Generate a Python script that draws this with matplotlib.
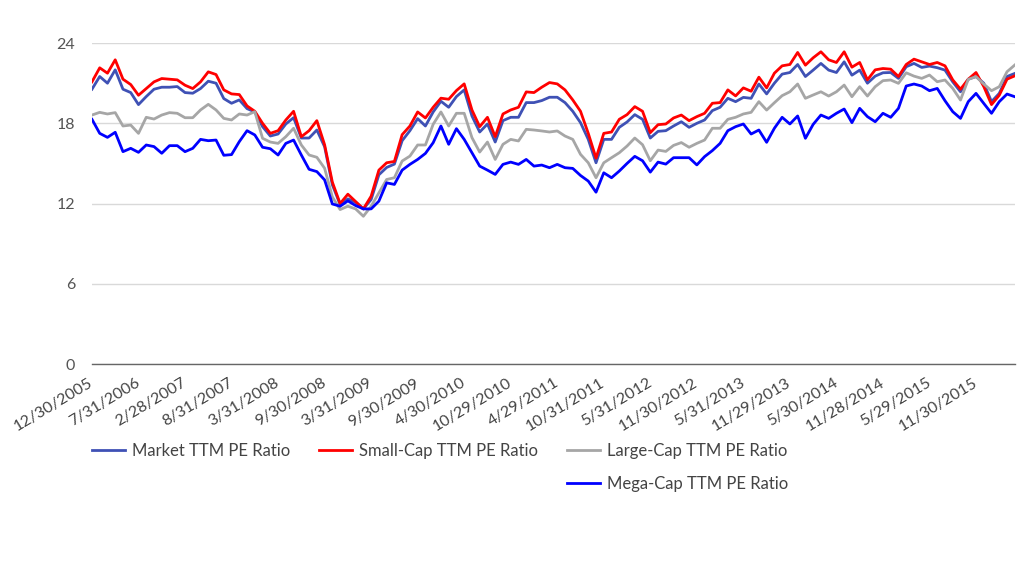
import matplotlib.pyplot as plt
from matplotlib.lines import Line2D

plt.rcParams['font.family'] = ['Lato', 'DejaVu Sans']

tick_labels = ['12/30/2005', '7/31/2006', '2/28/2007', '8/31/2007', '3/31/2008',
               '9/30/2008', '3/31/2009', '9/30/2009', '4/30/2010', '10/29/2010',
               '4/29/2011', '10/31/2011', '5/31/2012', '11/30/2012', '5/31/2013',
               '11/29/2013', '5/30/2014', '11/28/2014', '5/29/2015', '11/30/2015']

market = [20.55, 21.5, 21.0, 22.0, 20.55, 20.3, 19.4, 20.0, 20.55, 20.7,
          20.7, 20.75, 20.3, 20.25, 20.6, 21.15, 21.0, 19.85, 19.5, 19.75,
          19.1, 18.85, 17.75, 17.05, 17.2, 17.95, 18.42, 16.9, 16.9, 17.5,
          16.25, 13.4, 11.93, 12.35, 12.1, 11.6, 12.3, 14.15, 14.7, 14.95,
          16.7, 17.45, 18.35, 17.8, 18.85, 19.65, 19.2, 20.0, 20.5, 18.55,
          17.35, 17.95, 16.6, 18.2, 18.45, 18.45, 19.55, 19.55, 19.7, 19.95,
          19.95, 19.55, 18.9, 18.05, 16.8, 15.05, 16.8, 16.8, 17.7, 18.1,
          18.65, 18.3, 16.9, 17.4, 17.45, 17.8, 18.12, 17.7, 18.0, 18.25,
          18.95, 19.2, 19.87, 19.62, 19.94, 19.87, 20.94, 20.2, 21.0, 21.68,
          21.8, 22.4, 21.5, 21.98, 22.48, 21.98, 21.8, 22.6, 21.6, 21.98,
          21.0, 21.53, 21.78, 21.8, 21.36, 22.23, 22.48, 22.18, 22.28, 22.16,
          21.98, 21.1, 20.36, 21.3, 21.5, 21.0, 19.62, 20.24, 21.5, 21.73]

small_cap = [21.1, 22.15, 21.75, 22.75, 21.3, 20.9, 20.1, 20.6, 21.1, 21.35,
             21.3, 21.25, 20.85, 20.6, 21.1, 21.85, 21.65, 20.5, 20.2, 20.15,
             19.3, 18.9, 18.0, 17.25, 17.45, 18.25, 18.9, 17.0, 17.45, 18.2,
             16.4, 13.6, 12.0, 12.7, 12.15, 11.6, 12.55, 14.5, 15.05, 15.15,
             17.15, 17.8, 18.85, 18.4, 19.2, 19.88, 19.8, 20.45, 20.95, 19.0,
             17.75, 18.45, 17.0, 18.7, 19.0, 19.2, 20.35, 20.3, 20.7, 21.05,
             20.95, 20.5, 19.75, 18.9, 17.25, 15.4, 17.25, 17.35, 18.3, 18.65,
             19.25, 18.9, 17.3, 17.9, 17.95, 18.4, 18.62, 18.2, 18.5, 18.75,
             19.5, 19.55, 20.5, 20.05, 20.65, 20.4, 21.45, 20.65, 21.75, 22.3,
             22.4, 23.3, 22.35, 22.9, 23.35, 22.75, 22.55, 23.35, 22.2, 22.55,
             21.25, 22.0, 22.1, 22.05, 21.5, 22.4, 22.8, 22.6, 22.4, 22.55,
             22.3, 21.25, 20.55, 21.3, 21.8, 20.75, 19.4, 20.1, 21.3, 21.55]

large_cap = [18.62, 18.82, 18.7, 18.8, 17.8, 17.87, 17.25, 18.45, 18.32, 18.62,
             18.8, 18.75, 18.42, 18.42, 19.0, 19.42, 19.0, 18.37, 18.25, 18.7,
             18.62, 18.87, 16.88, 16.6, 16.5, 17.0, 17.63, 16.38, 15.63, 15.46,
             14.64, 12.5, 11.55, 11.8, 11.6, 11.05, 11.8, 12.8, 13.8, 13.93,
             15.18, 15.55, 16.38, 16.38, 17.93, 18.85, 17.8, 18.75, 18.75, 16.93,
             15.85, 16.6, 15.3, 16.43, 16.8, 16.68, 17.55, 17.5, 17.43, 17.35,
             17.43, 17.05, 16.8, 15.68, 15.05, 13.93, 15.05, 15.43, 15.8, 16.3,
             16.9, 16.4, 15.2, 16.0, 15.9, 16.35, 16.56, 16.21, 16.5, 16.75,
             17.63, 17.63, 18.3, 18.45, 18.7, 18.82, 19.62, 18.99, 19.54, 20.07,
             20.36, 20.94, 19.87, 20.12, 20.36, 20.04, 20.36, 20.86, 19.99, 20.74,
             20.04, 20.74, 21.19, 21.24, 20.99, 21.78, 21.53, 21.36, 21.61, 21.11,
             21.24, 20.61, 19.74, 21.29, 21.49, 20.94, 20.44, 20.74, 21.86, 22.36]

mega_cap = [18.3, 17.25, 16.95, 17.33, 15.88, 16.13, 15.83, 16.38, 16.26, 15.76,
            16.33, 16.33, 15.88, 16.13, 16.8, 16.7, 16.75, 15.61, 15.66, 16.63,
            17.45, 17.13, 16.21, 16.1, 15.63, 16.5, 16.75, 15.63, 14.56, 14.39,
            13.77, 11.97, 11.8, 12.2, 11.85, 11.6, 11.6, 12.18, 13.55, 13.43,
            14.5, 14.93, 15.3, 15.75, 16.55, 17.8, 16.43, 17.6, 16.8, 15.8,
            14.8, 14.5, 14.18, 14.93, 15.1, 14.93, 15.3, 14.8, 14.88, 14.68,
            14.93, 14.68, 14.63, 14.1, 13.68, 12.85, 14.3, 13.93, 14.43, 15.0,
            15.53, 15.2, 14.35, 15.1, 14.95, 15.43, 15.43, 15.43, 14.89, 15.51,
            15.96, 16.5, 17.45, 17.75, 17.95, 17.2, 17.5, 16.58, 17.63, 18.45,
            17.95, 18.55, 16.88, 17.92, 18.62, 18.37, 18.75, 19.07, 18.05, 19.12,
            18.5, 18.12, 18.75, 18.45, 19.12, 20.79, 20.94, 20.79, 20.44, 20.61,
            19.69, 18.87, 18.37, 19.62, 20.24, 19.49, 18.75, 19.62, 20.19, 19.99]

series = [
    ('Market TTM PE Ratio', market, '#3F51B5'),
    ('Small-Cap TTM PE Ratio', small_cap, '#FF0000'),
    ('Large-Cap TTM PE Ratio', large_cap, '#A6A6A6'),
    ('Mega-Cap TTM PE Ratio', mega_cap, '#0000FF'),
]

fig = plt.figure(figsize=(10.24, 5.67), dpi=100)
ax = fig.add_axes([0.0898, 0.358, 0.9012, 0.566])

x = list(range(len(market)))
handles = {}
for name, vals, color in series:
    line, = ax.plot(x, vals, color=color, linewidth=2.0, label=name,
                    solid_joinstyle='round')
    handles[name] = line

ax.set_xlim(0, len(market) - 1)
ax.set_ylim(0, 24)
ax.set_yticks([0, 6, 12, 18, 24])
ax.grid(axis='y', color='#D9D9D9', linewidth=1.0)
ax.set_axisbelow(True)
for s in ['top', 'right', 'left']:
    ax.spines[s].set_visible(False)
ax.spines['bottom'].set_color('#666666')
ax.spines['bottom'].set_linewidth(1.0)

# labels every 6th point, like the original
ax.set_xticks(x[::6])
ax.set_xticklabels(tick_labels, rotation=31, ha='right', va='center',
                   rotation_mode='anchor', color='#444444', fontsize=11.5)
ax.tick_params(axis='x', length=0, pad=13)
ax.tick_params(axis='y', length=0, pad=12, labelsize=11.5, labelcolor='#555555')

# blank entries so Mega-Cap sits under Large-Cap
blank = Line2D([], [], alpha=0)
order = [handles['Market TTM PE Ratio'], blank,
         handles['Small-Cap TTM PE Ratio'], blank,
         handles['Large-Cap TTM PE Ratio'], handles['Mega-Cap TTM PE Ratio']]
labels = ['Market TTM PE Ratio', '', 'Small-Cap TTM PE Ratio', '',
          'Large-Cap TTM PE Ratio', 'Mega-Cap TTM PE Ratio']
leg = fig.legend(order, labels, ncol=3, loc='upper left',
                 bbox_to_anchor=(0.0898, 0.219), frameon=False, borderpad=0,
                 borderaxespad=0, fontsize=12, handlelength=2.0,
                 handletextpad=0.42, columnspacing=1.7, labelspacing=1.03)
for t in leg.get_texts():
    t.set_color('#444444')

fig.savefig('out.png', dpi=100, facecolor='white')
